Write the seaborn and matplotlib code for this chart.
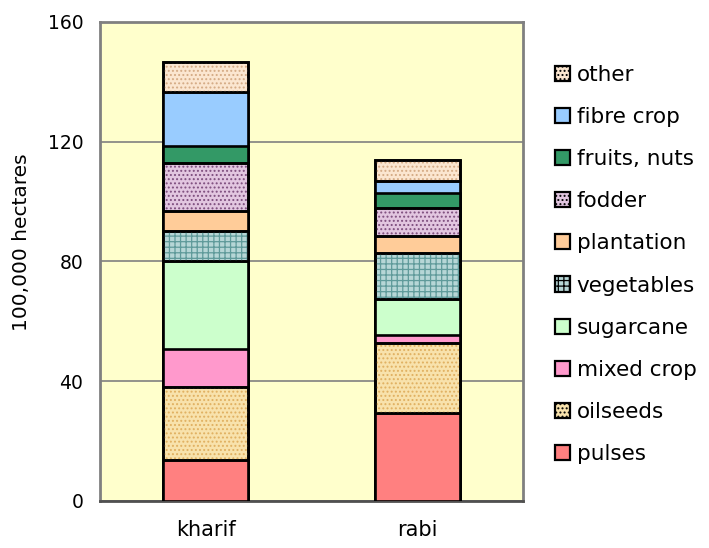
import matplotlib
matplotlib.use("Agg")
import matplotlib.pyplot as plt
from matplotlib.patches import Patch
import seaborn as sns
import numpy as np

seasons = ["kharif", "rabi"]
crops = ["pulses", "oilseeds", "mixed crop", "sugarcane", "vegetables",
         "plantation", "fodder", "fruits, nuts", "fibre crop", "other"]
kharif = [13.8, 24.1, 12.8, 29.5, 10.1, 6.7, 16.0, 5.4, 18.1, 10.1]
rabi = [29.2, 23.5, 2.7, 12.0, 15.5, 5.7, 9.4, 4.7, 4.3, 7.0]

face_colors = ["#FF8080", "#F8E2AC", "#FF99CC", "#CCFFCC", "#B6D6D6",
               "#FFCC99", "#E2C6E0", "#339966", "#99CCFF", "#FBE6D0"]
hatches = [None, "....", None, None, "+++", None, "....", None, None, "...."]
hatch_colors = [None, "#E0B060", None, None, "#5F9A9A", None, "#7E4E7E", None, None, "#D4AA84"]

sns.set_theme(style="white")
plt.rcParams["font.family"] = ["DejaVu Sans"]
plt.rcParams["text.color"] = "black"
plt.rcParams["axes.labelcolor"] = "black"
plt.rcParams["hatch.linewidth"] = 0.9

fig = plt.figure(figsize=(7.09, 5.48), dpi=100)
ax = fig.add_axes([0.141, 0.086, 0.597, 0.874])
ax.set_facecolor("#FFFFCC")

cum_k = np.cumsum(kharif)
cum_r = np.cumsum(rabi)

for i in range(len(crops) - 1, -1, -1):
    vals = [cum_k[i], cum_r[i]]
    sns.barplot(x=seasons, y=vals, color=face_colors[i], saturation=1,
                width=0.4, edgecolor="black", linewidth=1.9, ax=ax, zorder=3)

# texture overlays for patterned segments, restricted to each segment
for i in range(len(crops)):
    if not hatches[i]:
        continue
    for j, (cum, vals) in enumerate([(cum_k, kharif), (cum_r, rabi)]):
        bottom = cum[i] - vals[i]
        h = plt.Rectangle((j - 0.2, bottom), 0.4, vals[i],
                          facecolor="none", edgecolor=hatch_colors[i],
                          hatch=hatches[i], linewidth=0, zorder=3.5)
        ax.add_patch(h)
        b = plt.Rectangle((j - 0.2, bottom), 0.4, vals[i],
                          facecolor="none", edgecolor="black",
                          linewidth=1.9, zorder=3.6)
        ax.add_patch(b)

ax.set_ylim(0, 160)
ax.set_xlim(-0.5, 1.5)
ax.set_yticks([0, 40, 80, 120, 160])
ax.yaxis.grid(True, color="#808080", linewidth=1.2, zorder=1)
ax.set_axisbelow(True)
ax.tick_params(axis="y", labelsize=13.5, length=0, pad=12, colors="black")
ax.tick_params(axis="x", labelsize=15, length=0, pad=14, colors="black")
ax.set_ylabel("100,000 hectares", fontsize=14.5, color="black")
ax.yaxis.set_label_coords(-0.163, 0.54)
ax.set_xlabel("")
for s in ax.spines.values():
    s.set_visible(True)
    s.set_color("#808080")
    s.set_linewidth(2)
ax.spines["bottom"].set_color("#505050")

handles = []
for i in range(len(crops) - 1, -1, -1):
    handles.append(Patch(facecolor=face_colors[i], edgecolor="black",
                         linewidth=1.6, hatch=hatches[i] if hatches[i] else None))
labels = crops[::-1]
leg = fig.legend(handles, labels, loc="upper left", bbox_to_anchor=(0.783, 0.882),
                 frameon=False, fontsize=15.5, labelspacing=1.03,
                 handlelength=0.7, handleheight=0.7, handletextpad=0.3,
                 borderaxespad=0, borderpad=0)
for t in leg.get_texts():
    t.set_color("black")

fig.savefig("out.png", dpi=100)
